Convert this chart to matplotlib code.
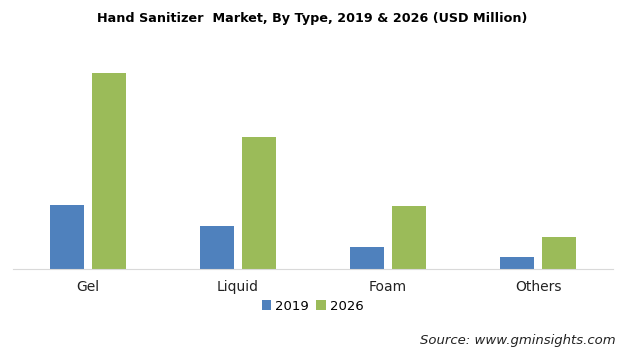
import numpy as np
import matplotlib.pyplot as plt

types = ['Gel', 'Liquid', 'Foam', 'Others']
years = ['2019', '2026']
sales_2019 = [640, 430, 220, 120]
sales_2026 = [1960, 1320, 630, 320]
colors = ['#4F81BD', '#9BBB59']

fig = plt.figure(figsize=(6.25, 3.55), dpi=100)
ax = fig.add_axes([0.0208, 0.2423, 0.96, 0.5634])

x = np.arange(len(types))
w = 0.225
ax.bar(x - 0.142, sales_2019, w, color=colors[0], label=years[0])
ax.bar(x + 0.142, sales_2026, w, color=colors[1], label=years[1])

ax.set_xlim(-0.5, len(types) - 0.5)
ax.set_ylim(0, 2000)
ax.set_xticks(x)
ax.set_xticklabels(types, fontsize=10, color='#222222')
ax.tick_params(axis='x', length=0, pad=8)
ax.set_yticks([])
for s in ['top', 'right', 'left']:
    ax.spines[s].set_visible(False)
ax.spines['bottom'].set_color('#d9d9d9')

fig.text(0.5, 0.947, 'Hand Sanitizer  Market, By Type, 2019 & 2026 (USD Million)',
         ha='center', va='center', fontsize=9.2, fontweight='bold')

fig.legend(loc='center', bbox_to_anchor=(0.5, 0.138), ncol=2, frameon=False,
           fontsize=9.5, handlelength=0.7, handleheight=0.7, handletextpad=0.3,
           columnspacing=0.6)

fig.text(0.985, 0.042, 'Source: www.gminsights.com', ha='right', va='center',
         fontsize=9.5, style='italic', color='#222222')

fig.savefig('out.png', dpi=100)
